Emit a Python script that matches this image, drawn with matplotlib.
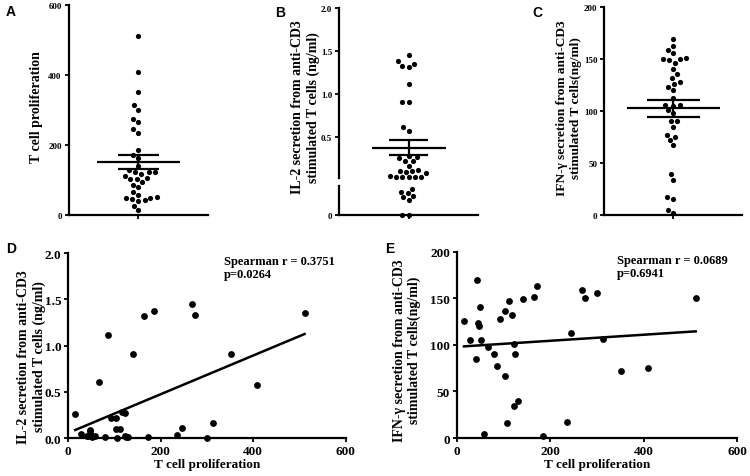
import numpy as np
import matplotlib
matplotlib.use("Agg")
import matplotlib.pyplot as plt

# one row per donor: T cell proliferation, IL-2 (ng/ml), IFN-gamma (ng/ml)
prolif = [15, 27, 40, 43, 46, 48, 50, 51, 58, 66, 79, 86, 93, 103, 103, 106, 112, 117,
          122, 123, 124, 130, 141, 164, 172, 185, 235, 245, 267, 274, 300, 313, 352, 408, 511]
il2 = [0.256, 0.04, 0.025, 0.018, 0.09, 0.075, 0.03, 0.012, 0.025, 0.61, 0.013, 1.12,
       0.217, 0.217, 0.094, 0.0, 0.094, 0.28, 0.024, 0.267, 0.015, 0.016, 0.91, 1.32,
       0.01, 1.38, 0.028, 0.108, 1.45, 1.33, 0.0, 0.159, 0.906, 0.57, 1.35]
ifng = [126, 105, 85, 169.6, 123, 120, 141, 105.5, 4.6, 98, 90.5, 77.3, 127.7, 136, 67,
        15.7, 146.7, 131.7, 34, 101, 90.5, 39.7, 149, 151, 162.8, 1.8, 17.5, 112.7, 158.5,
        150.3, 155.6, 106.3, 72, 74.8, 150.6]

stats_d = "Spearman r = 0.3751\np=0.0264"
stats_e = "Spearman r = 0.0689\np=0.6941"
il2_break = 0.02

W, H = 750, 477
SERIF = "Liberation Serif"
SANS = "Liberation Sans"

fig = plt.figure(figsize=(W / 100, H / 100), dpi=100)


def px_axes(l, t, r, b):
  return fig.add_axes([l / W, 1 - b / H, (r - l) / W, (b - t) / H])


def style(ax, tsize):
  for s in ["top", "right"]:
    ax.spines[s].set_visible(False)
  for s in ["left", "bottom"]:
    ax.spines[s].set_linewidth(1.6)
  ax.tick_params(direction="out", length=3, width=1.3, pad=2, labelsize=tsize)
  for lab in ax.get_xticklabels() + ax.get_yticklabels():
    lab.set_fontfamily(SERIF)
    lab.set_fontweight("bold")


def swarm(ypx, d):
  # simple beeswarm: put each dot as close to the centre as it can go
  xs = np.zeros(len(ypx))
  placed = []
  for i in np.argsort(ypx):
    y = ypx[i]
    ivs = []
    for px, py in placed:
      dy = abs(py - y)
      if dy < d:
        w = np.sqrt(d * d - dy * dy)
        ivs.append((px - w, px + w))
    cands = sorted([0.0] + [e for iv in ivs for e in iv], key=abs)
    for c in cands:
      if all(not (lo + 1e-6 < c < hi - 1e-6) for lo, hi in ivs):
        xs[i] = c
        break
    placed.append((xs[i], y))
  return xs


def mean_sem(ax, vals, half, semhalf):
  m = np.mean(vals)
  se = np.std(vals, ddof=1) / np.sqrt(len(vals))
  ax.hlines(m, -half, half, color="black", lw=1.6, zorder=4)
  ax.hlines([m - se, m + se], -semhalf, semhalf, color="black", lw=1.6, zorder=4)
  ax.vlines(0, m - se, m + se, color="black", lw=1.6, zorder=4)


def dot_panel(ax, vals, ylim, yticks, half, semhalf):
  ax.set_xlim(-1, 1)
  ax.set_ylim(*ylim)
  ax.set_yticks(yticks)
  ax.set_xticks([0])
  ax.set_xticklabels([])
  style(ax, 6.5)
  y = np.asarray(vals, float)
  ypx = ax.transData.transform(np.column_stack([np.zeros_like(y), y]))[:, 1]
  scale = ax.bbox.width / 2.0
  xs = swarm(ypx, 6.3) / scale
  ax.scatter(xs, y, s=14, color="black", zorder=3, clip_on=False, linewidths=0)
  mean_sem(ax, y, half, semhalf)


# ---- A
axA = px_axes(68.7, 6, 208, 216)
dot_panel(axA, prolif, (0, 600), [0, 200, 400, 600], 0.6, 0.29)

# ---- B (broken y axis)
axBu = px_axes(339, 9.3, 478.3, 178.8)
axBl = px_axes(339, 186.7, 478.3, 216)
for ax in (axBu, axBl):
  ax.set_xlim(-1, 1)
  ax.patch.set_alpha(0)
axBu.set_ylim(il2_break, 2.0)
axBu.set_yticks([0.5, 1.0, 1.5, 2.0])
axBu.set_yticklabels(["0.5", "1.0", "1.5", "2.0"])
axBu.set_xticks([])
axBl.set_ylim(0, il2_break)
axBl.set_yticks([0])
axBl.set_yticklabels(["0"])
axBl.set_xticks([0])
axBl.set_xticklabels([])
style(axBu, 6.5)
style(axBl, 6.5)
axBu.spines["bottom"].set_visible(False)

v = np.asarray(il2, float)
up = v >= il2_break
ypx = np.where(
  up,
  axBu.transData.transform(np.column_stack([np.zeros_like(v), v]))[:, 1],
  axBl.transData.transform(np.column_stack([np.zeros_like(v), v]))[:, 1],
)
xs = swarm(ypx, 6.3) / (axBu.bbox.width / 2.0)
axBu.scatter(xs[up], v[up], s=14, color="black", zorder=3, clip_on=False, linewidths=0)
axBl.scatter(xs[~up], v[~up], s=14, color="black", zorder=3, clip_on=False, linewidths=0)
mean_sem(axBu, v, 0.53, 0.28)

# ---- C
axC = px_axes(604.3, 8.3, 742.3, 216)
dot_panel(axC, ifng, (0, 200), [0, 50, 100, 150, 200], 0.67, 0.38)

# ---- D
axD = px_axes(68.3, 254.3, 345.7, 439)
axD.scatter(prolif, il2, s=24, color="black", zorder=3, clip_on=False, linewidths=0)
k, b = np.polyfit(prolif, il2, 1)
xl = np.array([min(prolif), max(prolif)])
axD.plot(xl, k * xl + b, color="black", lw=1.8)
axD.set_xlim(0, 600)
axD.set_ylim(0, 2.0)
axD.set_xticks([0, 200, 400, 600])
axD.set_yticks([0, 0.5, 1.0, 1.5, 2.0])
axD.set_yticklabels(["0.0", "0.5", "1.0", "1.5", "2.0"])
style(axD, 9.5)
axD.text(0.56, 0.99, stats_d, transform=axD.transAxes, ha="left", va="top",
         family=SERIF, weight="bold", fontsize=9, linespacing=1.15)

# ---- E
axE = px_axes(457, 252.7, 737.3, 439)
axE.scatter(prolif, ifng, s=24, color="black", zorder=3, clip_on=False, linewidths=0)
k, b = np.polyfit(prolif, ifng, 1)
axE.plot(xl, k * xl + b, color="black", lw=1.8)
axE.set_xlim(0, 600)
axE.set_ylim(0, 200)
axE.set_xticks([0, 200, 400, 600])
axE.set_yticks([0, 50, 100, 150, 200])
style(axE, 9.5)
axE.text(0.57, 0.99, stats_e, transform=axE.transAxes, ha="left", va="top",
         family=SERIF, weight="bold", fontsize=9, linespacing=1.15)

# ---- labels
def ftext(x, y, s, **kw):
  fig.text(x / W, 1 - y / H, s, **kw)

lab = dict(family=SERIF, weight="bold", ha="center", va="center",
           rotation=90, multialignment="center", linespacing=1.2)
ftext(36.7, 107.5, "T cell proliferation", fontsize=10, **lab)
ftext(305.5, 107.5, "IL-2 secretion from anti-CD3\nstimulated T cells (ng/ml)", fontsize=10, **lab)
ftext(569, 108, "IFN-γ secretion from anti-CD3\nstimulated T cells(ng/ml)", fontsize=9.6, **lab)
ftext(31.7, 356.7, "IL-2 secretion from anti-CD3\nstimulated T cells (ng/ml)", fontsize=10, **lab)
ftext(407, 350.7, "IFN-γ secretion from anti-CD3\nstimulated T cells(ng/ml)", fontsize=10, **lab)
ftext(206.7, 465, "T cell proliferation", family=SERIF, weight="bold", fontsize=9.5,
      ha="center", va="center")
ftext(596.7, 465, "T cell proliferation", family=SERIF, weight="bold", fontsize=9.5,
      ha="center", va="center")

for x, y, s in [(6, 5, "A"), (275, 6, "B"), (532, 6, "C"), (6, 242, "D"), (385, 242, "E")]:
  ftext(x, y, s, family=SANS, weight="bold", fontsize=10, ha="left", va="top")

fig.savefig("out.png", dpi=100)
